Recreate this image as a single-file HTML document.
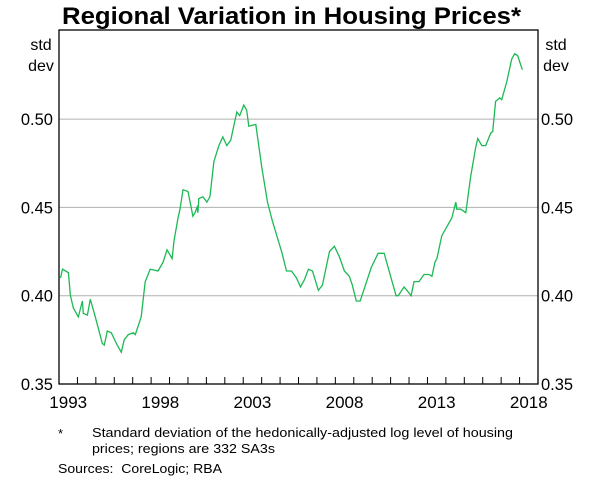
<!DOCTYPE html>
<html><head><meta charset="utf-8"><style>
body{margin:0;background:#fff;width:600px;height:482px;overflow:hidden;font-family:"Liberation Sans",Arial,sans-serif}
</style></head><body>
<svg width="600" height="482" viewBox="0 0 600 482" xmlns="http://www.w3.org/2000/svg" font-family="Liberation Sans, Arial, sans-serif">
<text x="62" y="24" font-size="24" font-weight="bold" textLength="459" lengthAdjust="spacingAndGlyphs">Regional Variation in Housing Prices*</text>
<text x="41" y="50" text-anchor="middle" font-size="16">std</text>
<text x="41" y="71" text-anchor="middle" font-size="16">dev</text>
<text x="556" y="50" text-anchor="middle" font-size="16">std</text>
<text x="556" y="71" text-anchor="middle" font-size="16">dev</text>
<g id="grid"></g>
<g id="ticks"></g>
<path id="line" fill="none" stroke="#1db954" stroke-width="1.3"></path>
<rect x="59" y="30" width="479" height="354" fill="none" stroke="#000" stroke-width="1.3"></rect>
<g id="labels"></g>
<text x="58" y="438" font-size="13">*</text>
<text x="92" y="437" font-size="13" textLength="421" lengthAdjust="spacingAndGlyphs">Standard deviation of the hedonically-adjusted log level of housing</text>
<text x="92" y="453" font-size="13" textLength="183" lengthAdjust="spacingAndGlyphs">prices; regions are 332 SA3s</text>
<text x="58" y="473" font-size="13" xml:space="preserve" textLength="164" lengthAdjust="spacingAndGlyphs">Sources:  CoreLogic; RBA</text>
</svg>
<script>
const years=[1993.08,1993.19,1993.51,1993.62,1993.78,1994.05,1994.27,1994.32,1994.54,1994.7,1994.97,1995.35,1995.46,1995.62,1995.84,1996.16,1996.38,1996.54,1996.76,1997.03,1997.14,1997.46,1997.68,1997.95,1998.38,1998.65,1998.86,1999.14,1999.24,1999.46,1999.57,1999.73,2000.0,2000.27,2000.38,2000.49,2000.54,2000.59,2000.81,2001.03,2001.19,2001.41,2001.68,2001.89,2002.11,2002.32,2002.65,2002.81,2003.03,2003.19,2003.3,2003.68,2004.0,2004.32,2004.59,2005.08,2005.35,2005.62,2005.89,2006.11,2006.32,2006.54,2006.76,2007.08,2007.3,2007.68,2007.95,2008.22,2008.49,2008.76,2008.92,2009.14,2009.35,2009.57,2009.95,2010.32,2010.65,2010.92,2011.3,2011.41,2011.73,2011.89,2012.11,2012.27,2012.54,2012.81,2013.08,2013.24,2013.41,2013.51,2013.78,2014.05,2014.32,2014.54,2014.59,2014.81,2015.08,2015.35,2015.62,2015.73,2015.95,2016.16,2016.43,2016.54,2016.7,2016.92,2017.03,2017.3,2017.57,2017.73,2017.89,2018.15];
const values=[0.410,0.415,0.413,0.400,0.393,0.388,0.397,0.390,0.389,0.398,0.388,0.373,0.372,0.380,0.379,0.372,0.368,0.375,0.378,0.379,0.378,0.388,0.408,0.415,0.414,0.419,0.426,0.421,0.431,0.444,0.449,0.460,0.459,0.445,0.447,0.450,0.447,0.455,0.456,0.453,0.456,0.476,0.485,0.490,0.485,0.488,0.504,0.502,0.508,0.505,0.496,0.497,0.473,0.453,0.442,0.425,0.414,0.414,0.410,0.405,0.409,0.415,0.414,0.403,0.406,0.425,0.428,0.422,0.414,0.411,0.406,0.397,0.397,0.404,0.416,0.424,0.424,0.414,0.400,0.400,0.405,0.403,0.400,0.408,0.408,0.412,0.412,0.411,0.419,0.421,0.434,0.439,0.444,0.453,0.449,0.449,0.447,0.468,0.484,0.489,0.485,0.485,0.492,0.493,0.510,0.512,0.511,0.521,0.534,0.537,0.536,0.528];
const yTicks=[0.35,0.40,0.45,0.50];
const yTickLabels=["0.35","0.40","0.45","0.50"];
const xLabelYears=[1993,1998,2003,2008,2013,2018];
const NS="http://www.w3.org/2000/svg";
const L=59,R=538,T=30,B=384;
function xs(t){return L+(t-1993)*(R-L)/26;}
function ys(v){return 384-(v-0.35)/0.05*88.3;}
function mk(tag,attrs,parent,txt){const e=document.createElementNS(NS,tag);for(const k in attrs)e.setAttribute(k,attrs[k]);if(txt!=null)e.textContent=txt;document.getElementById(parent).appendChild(e);return e;}
yTicks.forEach((v,i)=>{
  const y=ys(v);
  if(v>0.35){
    const g=mk('line',{x1:L,x2:R,y1:y,y2:y,stroke:'#b0b0b0','stroke-width':1},'grid');
    
    
  }
  const a=mk('text',{x:L-6,y:y+6,'text-anchor':'end','font-size':16.5},'labels',yTickLabels[i]);
  
  
  const b=mk('text',{x:R+3,y:y+6,'text-anchor':'start','font-size':16.5},'labels',yTickLabels[i]);
  
  
});
for(let yr=1994;yr<2019;yr++){
  const x=xs(yr);
  const t=mk('line',{x1:x,x2:x,y1:B,y2:B-7,stroke:'#000','stroke-width':1},'ticks');
  
  
}
xLabelYears.forEach(yr=>{
  const t=mk('text',{x:xs(yr+0.5),y:408,'text-anchor':'middle','font-size':17},'labels',String(yr));
  
  
});
let d='';
years.forEach((t,i)=>{d+=(i?'L':'M')+xs(t).toFixed(1)+','+ys(values[i]).toFixed(1);});
document.getElementById('line').setAttribute('d',d);
</script>
</body></html>
